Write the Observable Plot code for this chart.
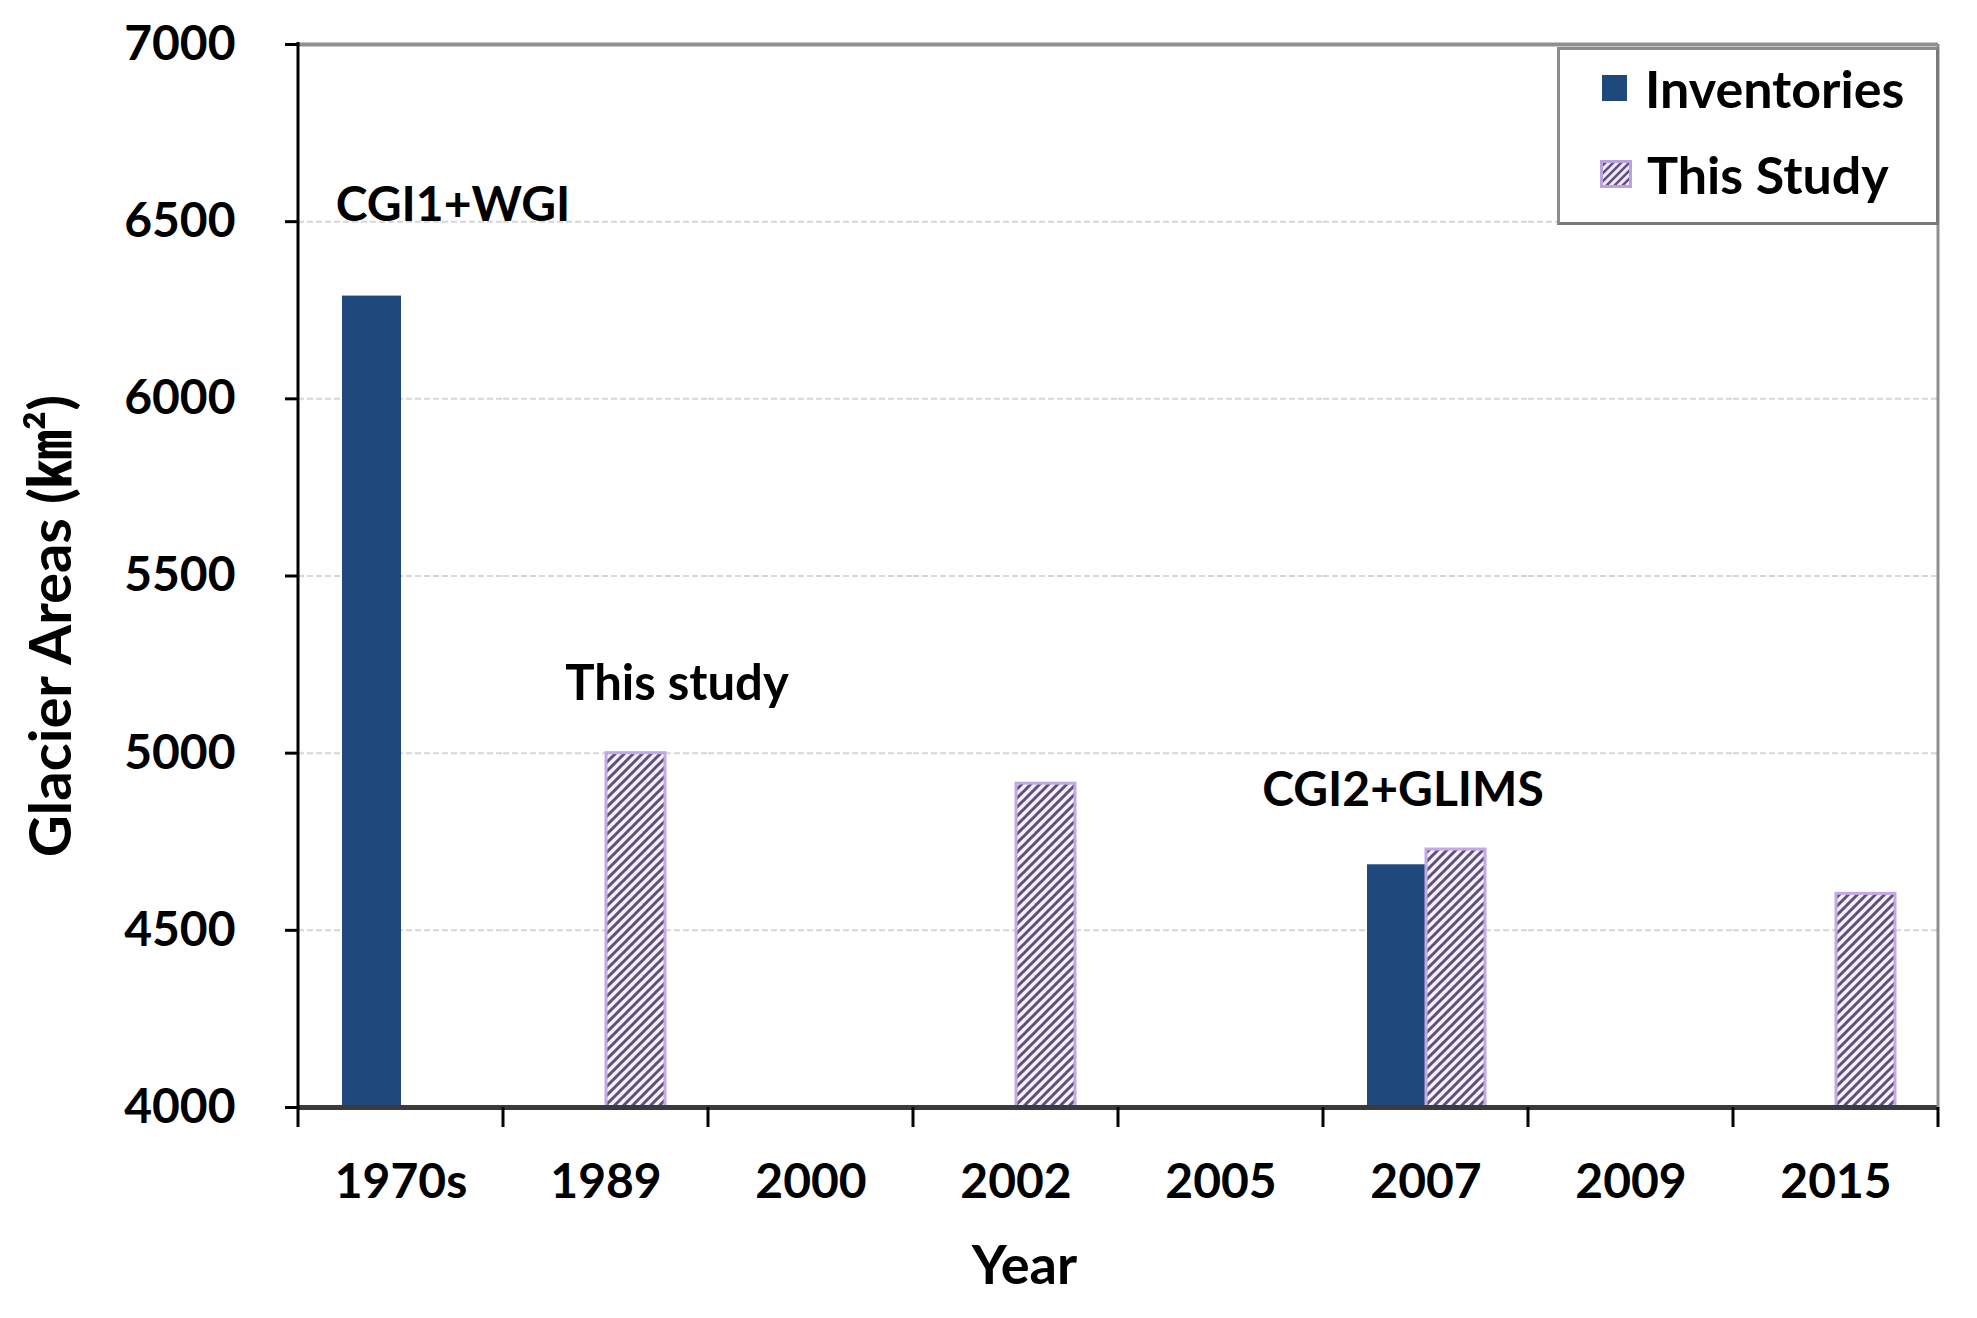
<!DOCTYPE html>
<html><head><meta charset="utf-8">
<script src="https://cdn.jsdelivr.net/npm/d3@7"></script>
<script src="https://cdn.jsdelivr.net/npm/@observablehq/plot@0.6"></script>
<style>
body{margin:0;background:#fff;}
#wrap{position:relative;width:1977px;height:1318px;font-family:Lato,"Noto Sans CJK SC",sans-serif;font-weight:700;}
#legend{position:absolute;left:1557px;top:47px;width:382px;height:178px;border:3px solid #8c8c8c;border-right-color:#7a7a7a;border-bottom-color:#7a7a7a;background:#fff;box-sizing:border-box;}
.item{position:absolute;display:flex;align-items:center;font-size:52px;line-height:1;height:52px;color:#000;white-space:nowrap;}
</style></head><body><div id="wrap"></div>
<script>
const years = ["1970s","1989","2000","2002","2005","2007","2009","2015"];
const series = ["Inventories","This Study"];
const inventoryYears = ["1970s","2007"];
const inventoryValues = [6290, 4685];
const studyYears = ["1989","2002","2007","2015"];
const studyValues = [5000, 4914, 4728, 4603];
const yTicks = [4000,4500,5000,5500,6000,6500,7000];
const annoTexts = ["CGI1+WGI","This study","CGI2+GLIMS"];
const annoYears = ["1970s","1989","2007"];
const annoSeries = ["This Study","This Study","Inventories"];
const annoValues = [6545, 5195, 4893];
const yLabel = "Glacier Areas (㎞²)";
const xLabel = "Year";

const invData = inventoryYears.map((y,i)=>({year:y, series:series[0], value:inventoryValues[i]}));
const stuData = studyYears.map((y,i)=>({year:y, series:series[1], value:studyValues[i]}));
const anno = annoTexts.map((t,i)=>({text:t, year:annoYears[i], series:annoSeries[i], value:annoValues[i]}));

const FONT = "Lato, 'Noto Sans CJK SC', sans-serif";
const plot = Plot.plot({
  width:1977, height:1318,
  marginLeft:295, marginRight:36, marginTop:44, marginBottom:211,
  style:{fontFamily:FONT, fontWeight:700, color:"#000", background:"#fff", overflow:"visible"},
  fx:{domain:years, padding:0, label:null},
  x:{domain:series, paddingInner:0, paddingOuter:0.72, axis:null},
  y:{domain:[yTicks[0], yTicks[yTicks.length-1]], label:null},
  marks:[
    Plot.gridY(yTicks.slice(1,-1), {stroke:"#d6d6d6", strokeOpacity:1, strokeWidth:2, strokeDasharray:"6,3"}),
    Plot.ruleY([yTicks[yTicks.length-1]], {stroke:"#8f8f8f", strokeWidth:4}),
    Plot.barY(invData, {fx:"year", x:"series", y1:yTicks[0], y2:"value", fill:"#1f497d"}),
    Plot.barY(stuData, {fx:"year", x:"series", y1:yTicks[0], y2:"value", fill:"url(#hatch)", stroke:"#c2a9e6", strokeWidth:3}),
    Plot.ruleY(years, {fx:d=>d, y:()=>yTicks[0], stroke:"#3a3a3a", strokeWidth:5}),
    Plot.axisY({ticks:yTicks, tickFormat:"d", tickSize:13, tickPadding:50, fontSize:48, strokeWidth:3, stroke:"#000", label:null}),
    Plot.axisFx({anchor:"bottom", tickSize:0, tickPadding:56, fontSize:48, label:null}),
    Plot.text(anno.filter((d,i)=>i===0), {fx:"year", x:"series", y:"value", text:"text", fontSize:48, dx:22, lineAnchor:"middle"}),
    Plot.text(anno.filter((d,i)=>i===1), {fx:"year", x:"series", y:"value", text:"text", fontSize:49, dx:41, lineAnchor:"middle"}),
    Plot.text(anno.filter((d,i)=>i===2), {fx:"year", x:"series", y:"value", text:"text", fontSize:48, dx:6, lineAnchor:"middle"}),
    Plot.text([xLabel], {facet:"super", frameAnchor:"bottom", textAnchor:"middle", dx:-94, dy:159, fontSize:54, lineAnchor:"middle"}),
    Plot.text([yLabel], {facet:"super", frameAnchor:"left", textAnchor:"middle", rotate:-90, dx:-246, dy:50, fontSize:58, lineAnchor:"middle"})
  ]
});

// hatch pattern defs
const ns = "http://www.w3.org/2000/svg";
const defs = document.createElementNS(ns, "defs");
defs.innerHTML = `<pattern id="hatch" patternUnits="userSpaceOnUse" width="9" height="9">
  <rect width="9" height="9" fill="#f7f0ff"/>
  <path d="M-2.25,2.25 L2.25,-2.25 M0,9 L9,0 M6.75,11.25 L11.25,6.75" stroke="#5d507d" stroke-width="3"/>
</pattern>`;
plot.insertBefore(defs, plot.firstChild);

// axis frame lines and category boundary ticks drawn from Plot's scales
const fx = plot.scale("fx"), ys = plot.scale("y");
const yTop = ys.apply(yTicks[yTicks.length-1]), yBot = ys.apply(yTicks[0]);
const bounds = years.map(y => fx.apply(y));
bounds.push(fx.apply(years[years.length-1]) + fx.bandwidth);
const svg = d3.select(plot);
const g = svg.append("g");
g.append("line").attr("x1", bounds[bounds.length-1]).attr("x2", bounds[bounds.length-1]).attr("y1", yTop).attr("y2", yBot).attr("stroke","#8f8f8f").attr("stroke-width",3);
g.append("line").attr("x1", bounds[0]).attr("x2", bounds[0]).attr("y1", yTop-2).attr("y2", yBot+20).attr("stroke","#000").attr("stroke-width",3);
g.selectAll(".bt").data(bounds.slice(1)).join("line").attr("x1", d=>d).attr("x2", d=>d).attr("y1", yBot).attr("y2", yBot+20).attr("stroke","#000").attr("stroke-width",3);

const wrap = document.getElementById("wrap");
wrap.appendChild(plot);

// legend
const leg = document.createElement("div");
leg.id = "legend";
const swInv = `<svg width="25" height="26" style="margin-right:18px"><rect width="25" height="26" fill="#1f497d"/></svg>`;
const swStu = `<svg width="32" height="28" style="margin-right:15px"><defs><pattern id="hatch2" patternUnits="userSpaceOnUse" width="8" height="8"><rect width="8" height="8" fill="#f2e8fd"/><path d="M-2,2 L2,-2 M0,8 L8,0 M6,10 L10,6" stroke="#5d507d" stroke-width="2.5"/></pattern></defs><rect x="1.5" y="1.5" width="29" height="25" fill="url(#hatch2)" stroke="#b9a2de" stroke-width="3"/></svg>`;
leg.innerHTML = `<div class="item" style="top:12px;left:42px">${swInv}<span>${series[0]}</span></div>
<div class="item" style="top:98px;left:40px">${swStu}<span>${series[1]}</span></div>`;
wrap.appendChild(leg);
</script></body></html>
